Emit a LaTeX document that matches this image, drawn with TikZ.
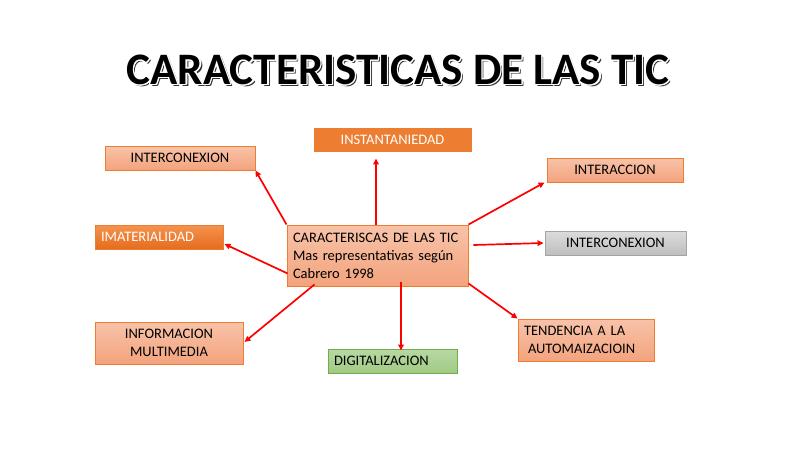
\documentclass[tikz,border=0pt]{standalone}
\usepackage{fontspec}
\setmainfont{Carlito}
\usetikzlibrary{arrows.meta,calc}
\definecolor{obord}{HTML}{ED7D31}
\definecolor{stop}{HTML}{F8C3A9}
\definecolor{sbot}{HTML}{F3A37D}
\definecolor{otop}{HTML}{F4934F}
\definecolor{obot}{HTML}{E66C1C}
\definecolor{gtop}{HTML}{DCDCDC}
\definecolor{gbot}{HTML}{BEBEBE}
\definecolor{gbord}{HTML}{A5A5A5}
\definecolor{ntop}{HTML}{B8D9A3}
\definecolor{nbot}{HTML}{A0CA84}
\definecolor{nbord}{HTML}{70AD47}
\definecolor{txt}{HTML}{000000}
\definecolor{arrred}{HTML}{FF0000}
\begin{document}
\begin{tikzpicture}[x=1pt,y=-1pt,
  box/.style={draw=obord, line width=0.9pt, inner ysep=0pt, inner xsep=6pt,
    font=\fontsize{14.5}{18}\selectfont, text=txt},
  salmon/.style={box, top color=stop, bottom color=sbot},
  orangeflat/.style={box, fill=obord, text=white},
  orangegrad/.style={box, top color=otop, bottom color=obot, text=white},
  graybox/.style={box, draw=gbord, top color=gtop, bottom color=gbot},
  greenbox/.style={box, draw=nbord, top color=ntop, bottom color=nbot},
  arr/.style={draw=arrred, line width=1.7pt, -{Triangle[length=6pt,width=5.5pt]}},
  ttl/.style={font=\fontsize{45}{50}\selectfont\bfseries, inner sep=0pt}
]
\path[fill=white, use as bounding box] (0,0) rectangle (800,450);

% title
\node[ttl, text=black!80] (tshadow) at (400.3,72.3) {CARACTERISTICAS DE LAS TIC};
\foreach \a in {0,22.5,...,337.5}{
  \node[ttl, text=white] (touter\a) at ($(398,70)+(\a:1.3)$) {CARACTERISTICAS DE LAS TIC};
}
\node[ttl, text=black] (title) at (398,70) {CARACTERISTICAS DE LAS TIC};

% boxes
\node[salmon, minimum width=181pt, minimum height=61pt, text width=169pt, align=left] (c) at (377.5,255.5)
  {CARACTERISCAS DE LAS TIC\\Mas representativas según\\Cabrero 1998};
\node[salmon, minimum width=150pt, minimum height=24pt] (n1) at (180,158) {INTERCONEXION};
\node[orangeflat, minimum width=157pt, minimum height=23pt] (ins) at (392.5,139.5) {INSTANTANIEDAD};
\node[salmon, minimum width=136pt, minimum height=24pt] (inter) at (615,170) {INTERACCION};
\node[graybox, minimum width=141pt, minimum height=24pt] (gray) at (615.5,243) {INTERCONEXION};
\node[orangegrad, minimum height=24pt, text width=116pt, align=left] (imat) at (159,237) {IMATERIALIDAD};
\node[salmon, minimum width=148pt, minimum height=42pt, align=center] (info) at (169,343) {INFORMACION\\MULTIMEDIA};
\node[greenbox, minimum height=24pt, text width=117pt, align=left] (dig) at (392.5,361) {DIGITALIZACION};
\node[salmon, minimum height=42pt, text width=124pt, align=left] (tend) at (586,340) {TENDENCIA A LA\\\hspace*{4pt}AUTOMAIZACIOIN};

% connectors
\coordinate (upstart) at ($(c.north)+(-1.5,0)$);
\coordinate (upend) at ($(upstart |- ins.south)+(0,7)$);
\draw[arr] (c.north west) -- (n1.south east);
\draw[arr] (upstart) -- (upend);
\coordinate (imstart) at ($(c.south west)+(1,-13)$);
\coordinate (imend) at ($(imat.east)+(1,7)$);
\draw[arr] (imstart) -- (imend);
\draw[arr] (c.north east) -- ($(inter.south west)+(-2,0)$);
\coordinate (grstart) at ($(c.east |- gray.west)+(5,2)$);
\draw[arr] (grstart) -- ($(gray.west)+(-1,0)$);
\draw[arr] ($(c.south east)+(0,-3)$) -- (tend.north west);
\coordinate (dnstart) at ($(c.south)+(23.5,-4)$);
\coordinate (dnend) at ($(dnstart |- dig.north)+(0,2)$);
\draw[arr] (dnstart) -- (dnend);
\coordinate (instart) at ($(c.south west)+(28,-2)$);
\draw[arr] (instart) -- ($(info.east)+(1,-1)$);
\end{tikzpicture}
\end{document}
